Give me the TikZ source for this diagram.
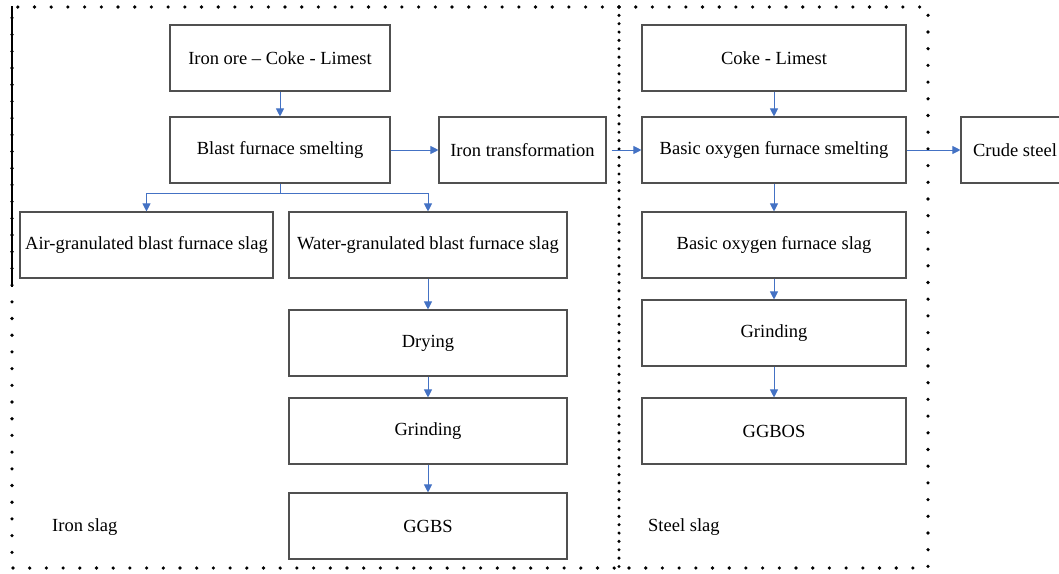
\documentclass[tikz,border=0pt]{standalone}
\usepackage{fontspec}
\setmainfont{Liberation Serif}
\usetikzlibrary{arrows.meta}
\definecolor{flowblue}{HTML}{4472C4}
\definecolor{boxgray}{HTML}{505050}
\tikzset{
  box/.style={draw=boxgray, line width=1.1pt, fill=white, inner sep=0pt,
    minimum height=66pt, font=\fontsize{18.5}{22}\selectfont},
  flow/.style={draw=flowblue, line width=0.9pt,
    -{Triangle[length=8pt,width=8pt]}},
  dotrow/.style={line width=3.6pt, line cap=round,
    dash pattern=on 0pt off 16.7pt},
  dotrowdense/.style={line width=3.4pt, line cap=round,
    dash pattern=on 0pt off 8.35pt},
  label/.style={anchor=west, inner sep=0pt, font=\fontsize{18.5}{22}\selectfont}
}
\begin{document}
\begin{tikzpicture}[x=1pt, y=-1pt]
\useasboundingbox (0,0) rectangle (1059,573);
\clip (0,0) rectangle (1059,573);

% group frames
\draw[dotrow] (619,7) -- (12,7) -- (12,568) -- (619,568);
\draw[dotrow] (619,7) -- (928,7) -- (928,568) -- (619,568);
\draw[dotrowdense] (619,7) -- (619,568);
\draw[line width=1.3pt] (12,6) -- (12,287);

% iron route
\node[box, minimum width=220pt] (ore) at (280,58) {Iron ore -- Coke - Limest};
\node[box, minimum width=220pt] (bf) at (280,150) {Blast furnace smelting};
\node[box, minimum width=167pt] (itr) at (522.5,150) {Iron transformation};
\node[box, minimum width=253pt] (air) at (146.5,245) {Air-granulated blast furnace slag};
\node[box, minimum width=278pt] (water) at (428,245) {Water-granulated blast furnace slag};
\node[box, minimum width=278pt] (dry) at (428,343) {Drying};
\node[box, minimum width=278pt] (grl) at (428,431) {Grinding};
\node[box, minimum width=278pt] (ggbs) at (428,526) {GGBS};

% steel route
\node[box, minimum width=264pt] (coke) at (774,58) {Coke - Limest};
\node[box, minimum width=264pt] (bof) at (774,150) {Basic oxygen furnace smelting};
\node[box, minimum width=264pt] (bofs) at (774,245) {Basic oxygen furnace slag};
\node[box, minimum width=264pt] (grr) at (774,333) {Grinding};
\node[box, minimum width=264pt] (ggbos) at (774,431) {GGBOS};
\node[box, minimum width=108pt] (crude) at (1015,150) {Crude steel};

% group captions
\node[label] (ironlbl) at (52,527) {Iron slag};
\node[label] (steellbl) at (648,527) {Steel slag};

% connectors
\coordinate (branch) at (280,193);
\draw[flow] (ore) -- (bf);
\draw[draw=flowblue, line width=0.9pt] (bf) -- (branch);
\draw[flow] (branch) -| (air.north);
\draw[flow] (branch) -| (water.north);
\draw[flow] (bf) -- (itr);
\draw[flow, shorten <=5pt] (itr) -- (bof);
\draw[flow] (bof) -- (crude);
\draw[flow] (coke) -- (bof);
\draw[flow] (bof) -- (bofs);
\draw[flow] (bofs) -- (grr);
\draw[flow] (grr) -- (ggbos);
\draw[flow] (water) -- (dry);
\draw[flow] (dry) -- (grl);
\draw[flow] (grl) -- (ggbs);
\end{tikzpicture}
\end{document}
